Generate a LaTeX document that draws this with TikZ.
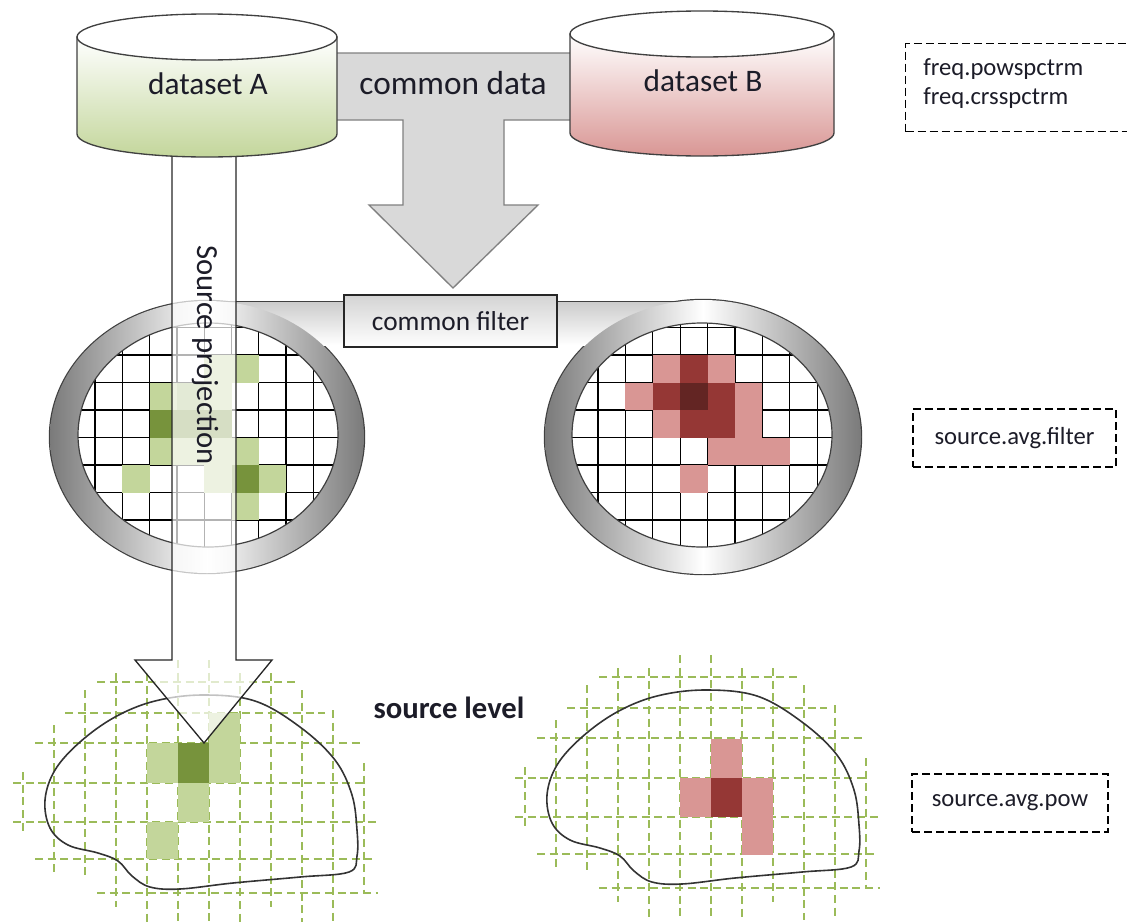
\documentclass[tikz,border=0pt]{standalone}
\usepackage{fontspec}
\setmainfont{Carlito}
\usepackage{tikz}
\usetikzlibrary{positioning}

\definecolor{lightgreen}{HTML}{C3D69B}
\definecolor{darkgreen}{HTML}{77933C}
\definecolor{midgreen}{HTML}{A3B978}
\definecolor{lightred}{HTML}{D99694}
\definecolor{darkred}{HTML}{953735}
\definecolor{deepred}{HTML}{632523}
\definecolor{dashgreen}{HTML}{9BBB59}
\definecolor{arrowfill}{HTML}{D9D9D9}
\definecolor{textcol}{HTML}{1C1C28}

\tikzset{
	bigtext/.style={font=\fontsize{23.5}{28}\selectfont, text=textcol},
	labeltext/.style={font=\fontsize{18.5}{22}\selectfont, text=textcol, inner sep=0pt},
	labelbox/.style={
		draw=black, 
		line width=0.9pt, 
		dash pattern=on 6pt off 3pt, 
		minimum height=43.5pt, 
		font=\fontsize{18.5}{22}\selectfont, 
		text=textcol
	},
	filterbox/.style={
		draw=black!85, 
		line width=1pt, 
		top color=black!17, 
		bottom color=white, 
		minimum width=159.75pt, 
		minimum height=39pt, 
		font=\fontsize{20.5}{24}\selectfont, 
		text=textcol
	},
	ringband/.style={even odd rule, left color=black!52, right color=black!52, middle color=white},
	ringedge/.style={draw=black!75, line width=1.8pt},
	filtergrid/.style={black, line width=1pt},
	voxelgrid/.style={dashgreen, line width=1.1pt, dash pattern=on 6pt off 3.5pt},
	brainline/.style={black!80, line width=1.2pt},
	bigarrow/.style={draw=black!50, line width=1pt, fill=arrowfill},
	projarrow/.style={draw=black!85, line width=1pt, fill=white, fill opacity=0.7},
	cylbody/.style={draw=black!75, line width=1pt, top color=white, bottom color=#1},
	cyltop/.style={draw=black!75, line width=1pt, fill=white},
	brain/.pic={
		\foreach \y/\xa/\xb in {682/97/295, 713/65/325, 743/35/363, 783/13/365, 822/13/377, 859/35/375, 893/97/378}
			\draw[voxelgrid] (\xa,\y) -- (\xb,\y);
		\foreach \x/\ya/\yb in {23/772/833, 54/725/873, 85/690/877, 116/673/907, 147/673/925, 178/660/925, 209/660/925, 240/673/925, 271/673/907, 302/690/925, 333/710/925, 364/763/893}
			\draw[voxelgrid] (\x,\ya) -- (\x,\yb);
		\draw[brainline] plot[smooth cycle, tension=0.6] coordinates {(203,695) (255,701) (300,727) (335,760) (352,795) (357,830) (357,856) (349,872) (300,877) (233,883) (180,889) (150,887) (132,876) (118,861) (98,853) (68,845) (50,828) (45,800) (55,770) (80,742) (115,717) (155,701)};
	}
}

\begin{document}
\begin{tikzpicture}[x=0.75pt, y=-0.75pt]
	\useasboundingbox (0,0) rectangle (1127,921);

	% shared data arrow
	\path[bigarrow] (320,53) -- (580,53) -- (580,120) -- (504,120) -- (504,205) -- (538,205) -- (453,288) -- (369,205) -- (403,205) -- (403,120) -- (320,120) -- cycle;
	\node[bigtext, font=\fontsize{25}{30}\selectfont] (common) at (453,83) {common data};

	% filter: two rings joined by a bar
	\draw[ringedge] (207,437) ellipse[x radius=157, y radius=136];
	\draw[ringedge] (703,437) ellipse[x radius=158, y radius=137];
	\draw[ringedge] (213,302) rectangle (697,345);
	\path[top color=black!20, bottom color=white] (213,302) rectangle (697,345);
	\path[ringband] (207,437) ellipse[x radius=157, y radius=136] (208,435) ellipse[x radius=130, y radius=112];
	\path[ringband] (703,437) ellipse[x radius=158, y radius=137] (702,435) ellipse[x radius=130, y radius=112];

	\begin{scope}
		\clip (208,435) ellipse[x radius=130, y radius=112];
		\fill[white] (60,300) rectangle (360,560);
		\foreach \i in {-1,...,9}
			\draw[filtergrid] ({95+27.3*\i},300) -- ({95+27.3*\i},560);
		\foreach \j in {-1,...,7}
			\draw[filtergrid] (60,{355+27.5*\j}) -- (360,{355+27.5*\j});
		\foreach \cc/\rr/\colr in {4/0/lightgreen, 5/0/lightgreen, 2/1/lightgreen, 3/1/midgreen, 4/1/lightgreen, 2/2/darkgreen, 3/2/darkgreen, 4/2/darkgreen, 2/3/lightgreen, 3/3/lightgreen, 4/3/lightgreen, 5/3/lightgreen, 1/4/lightgreen, 4/4/lightgreen, 5/4/darkgreen, 6/4/lightgreen, 5/5/lightgreen}
			\fill[\colr] ({95+27.3*\cc},{355+27.5*\rr}) rectangle ++(27.3,27.5);
	\end{scope}
	\draw[black!75, line width=0.9pt] (208,435) ellipse[x radius=130, y radius=112];

	\begin{scope}
		\clip (702,435) ellipse[x radius=130, y radius=112];
		\fill[white] (560,300) rectangle (850,560);
		\foreach \i in {-1,...,9}
			\draw[filtergrid] ({598+27.4*\i},300) -- ({598+27.4*\i},560);
		\foreach \j in {-1,...,7}
			\draw[filtergrid] (560,{355+27.5*\j}) -- (850,{355+27.5*\j});
		\foreach \cc/\rr/\colr in {2/0/lightred, 3/0/darkred, 4/0/lightred, 1/1/lightred, 2/1/darkred, 3/1/deepred, 4/1/darkred, 5/1/lightred, 2/2/lightred, 3/2/darkred, 4/2/darkred, 5/2/lightred, 4/3/lightred, 5/3/lightred, 6/3/lightred, 3/4/lightred}
			\fill[\colr] ({598+27.4*\cc},{355+27.5*\rr}) rectangle ++(27.4,27.5);
	\end{scope}
	\draw[black!75, line width=0.9pt] (702,435) ellipse[x radius=130, y radius=112];

	\node[filterbox] (filter) at (450.5,321) {common filter};

	% source level
	\pic at (0,0) {brain};
	\foreach \xa/\ya/\xb/\yb/\colr in {147/743/178/783/lightgreen, 178/743/209/783/darkgreen, 209/713/240/783/lightgreen, 178/783/209/822/lightgreen, 147/822/178/859/lightgreen}
		\fill[\colr] (\xa,\ya) rectangle (\xb,\yb);
	\pic at (502,-5) {brain};
	\foreach \xa/\ya/\xb/\yb/\colr in {711/739/742/778/lightred, 680/778/711/817/lightred, 711/778/742/817/darkred, 742/778/773/855/lightred}
		\fill[\colr] (\xa,\ya) rectangle (\xb,\yb);
	\node[bigtext, font=\fontsize{23}{28}\selectfont\bfseries] (srclevel) at (449,708) {source level};

	% projection arrow from dataset A
	\path[projarrow] (172,150) -- (172,660) -- (135,660) -- (204,743) -- (272,660) -- (236,660) -- (236,150);
	\node[bigtext, font=\fontsize{23}{28}\selectfont, rotate=-90] (proj) at (205,355) {Source projection};

	% datasets
	\path[cylbody=lightgreen] (77,37) -- (77,134) arc[start angle=180, end angle=0, x radius=130, y radius=23] -- (337,37) -- cycle;
	\path[cyltop] (207,37) ellipse[x radius=130, y radius=23];
	\node[bigtext] (dataA) at (208,84) {dataset A};

	\path[cylbody=lightred] (570,34) -- (570,133) arc[start angle=180, end angle=0, x radius=132, y radius=23] -- (834,34) -- cycle;
	\path[cyltop] (702,34) ellipse[x radius=132, y radius=23];
	\node[bigtext] (dataB) at (703,81) {dataset B};

	% field names
	\node[labelbox, anchor=north west, minimum width=180pt, minimum height=66pt] (freqbox) at (905,43) {};
	\node[labeltext, anchor=west] (powspc) at (923,69) {freq.powspctrm};
	\node[labeltext, anchor=west] (crsspc) at (923,98) {freq.crsspctrm};
	\node[labelbox, minimum width=152.25pt] (avgfilter) at (1014.5,438) {source.avg.filter};
	\node[labelbox, minimum width=147pt] (avgpow) at (1010,803) {source.avg.pow};
\end{tikzpicture}
\end{document}
